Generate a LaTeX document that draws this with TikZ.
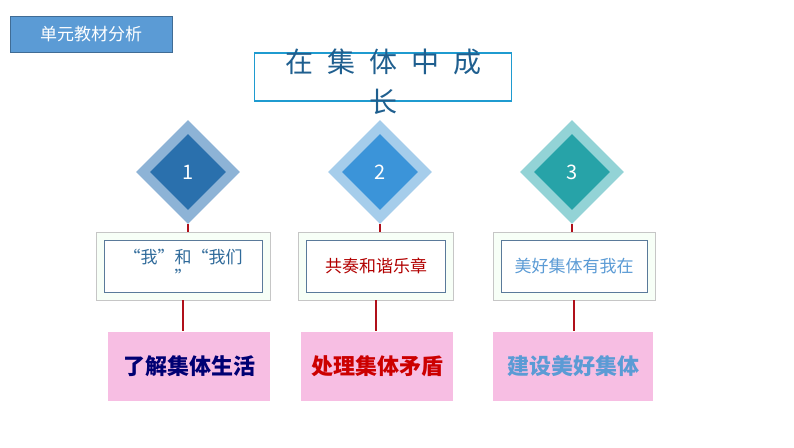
\documentclass[tikz,border=0pt]{standalone}
\usepackage{fontspec}
\newfontfamily\cjk{Noto Sans CJK SC}
\usetikzlibrary{shapes.geometric}
\definecolor{hdrblue}{HTML}{5B9BD5}
\definecolor{ttlblue}{HTML}{1F9BD0}
\definecolor{ttltext}{HTML}{1F5F8F}
\definecolor{linered}{HTML}{B0101A}
\definecolor{pinkbg}{HTML}{F7BEE3}
\definecolor{outerA}{HTML}{8DB3D6}
\definecolor{innerA}{HTML}{2A70AD}
\definecolor{outerB}{HTML}{A5CDEB}
\definecolor{innerB}{HTML}{3B94D9}
\definecolor{outerC}{HTML}{93D3D6}
\definecolor{innerC}{HTML}{27A3A8}
\definecolor{boxline}{HTML}{5A7A9A}
\definecolor{textA}{HTML}{2F6A9A}
\definecolor{textC}{HTML}{5B9BD5}
\begin{document}
\begin{tikzpicture}
        [x=1pt,y=-1pt,
        outerdia/.style={diamond,minimum width=104pt,minimum height=104pt,inner sep=0pt},
        innerdia/.style={diamond,minimum width=76pt,minimum height=76pt,inner sep=0pt,
            text=white,font=\cjk\fontsize{20}{20}\selectfont},
        midbox/.style={draw=gray!45,fill=green!3,minimum height=68pt},
        inbox/.style={draw=boxline,fill=white,minimum height=52pt,
            align=center,font=\cjk\fontsize{17}{20}\selectfont},
        pinkbox/.style={fill=pinkbg,minimum height=69pt,
            font=\cjk\bfseries\fontsize{22}{22}\selectfont},
        link/.style={linered,line width=1.2pt}]
        \useasboundingbox (0,0) rectangle (794,447);
        \node[fill=hdrblue,draw=hdrblue!70!black,minimum width=162pt,minimum height=36pt,
            text=white,font=\cjk\fontsize{17}{17}\selectfont] (hdr) at (91,34) {单元教材分析};
        \node[draw=ttlblue,line width=1.2pt,minimum width=257pt,minimum height=48pt] (ttl) at (383,77) {};
        \node[text=ttltext,font=\cjk\fontsize{28}{40}\selectfont,align=center] (ttltxt) at (383,82)
            {在\hspace{0.5em}集\hspace{0.5em}体\hspace{0.5em}中\hspace{0.5em}成\\长};
        % diamonds
        \node[outerdia,fill=outerA] (o1) at (188,172) {};
        \node[innerdia,fill=innerA] (d1) at (188,172) {1};
        \node[outerdia,fill=outerB] (o2) at (380,172) {};
        \node[innerdia,fill=innerB] (d2) at (380,172) {2};
        \node[outerdia,fill=outerC] (o3) at (572,172) {};
        \node[innerdia,fill=innerC] (d3) at (572,172) {3};
        % middle boxes
        \node[midbox,minimum width=174pt] (m1) at (183,266) {};
        \node[inbox,minimum width=158pt,text=textA] (t1) at (183,266) {“我”和“我们\\”};
        \node[midbox,minimum width=155pt] (m2) at (376,266) {};
        \node[inbox,minimum width=139pt,text=red!70!black] (t2) at (376,266) {共奏和谐乐章};
        \node[midbox,minimum width=162pt] (m3) at (574,266) {};
        \node[inbox,minimum width=146pt,text=textC] (t3) at (574,266) {美好集体有我在};
        % pink boxes
        \node[pinkbox,minimum width=162pt,text=blue!45!black] (p1) at (189,366) {了解集体生活};
        \node[pinkbox,minimum width=152pt,text=red!80!black] (p2) at (377,366) {处理集体矛盾};
        \node[pinkbox,minimum width=160pt,text=textC] (p3) at (573,366) {建设美好集体};
        \draw[link] (o1.south) -- (m1.north -| o1.south);
        \draw[link] (o2.south) -- (m2.north -| o2.south);
        \draw[link] (o3.south) -- (m3.north -| o3.south);
        \draw[link] (m1.south) -- (p1.north -| m1.south);
        \draw[link] (m2.south) -- (p2.north -| m2.south);
        \draw[link] (m3.south) -- (p3.north -| m3.south);
\end{tikzpicture}
\end{document}
